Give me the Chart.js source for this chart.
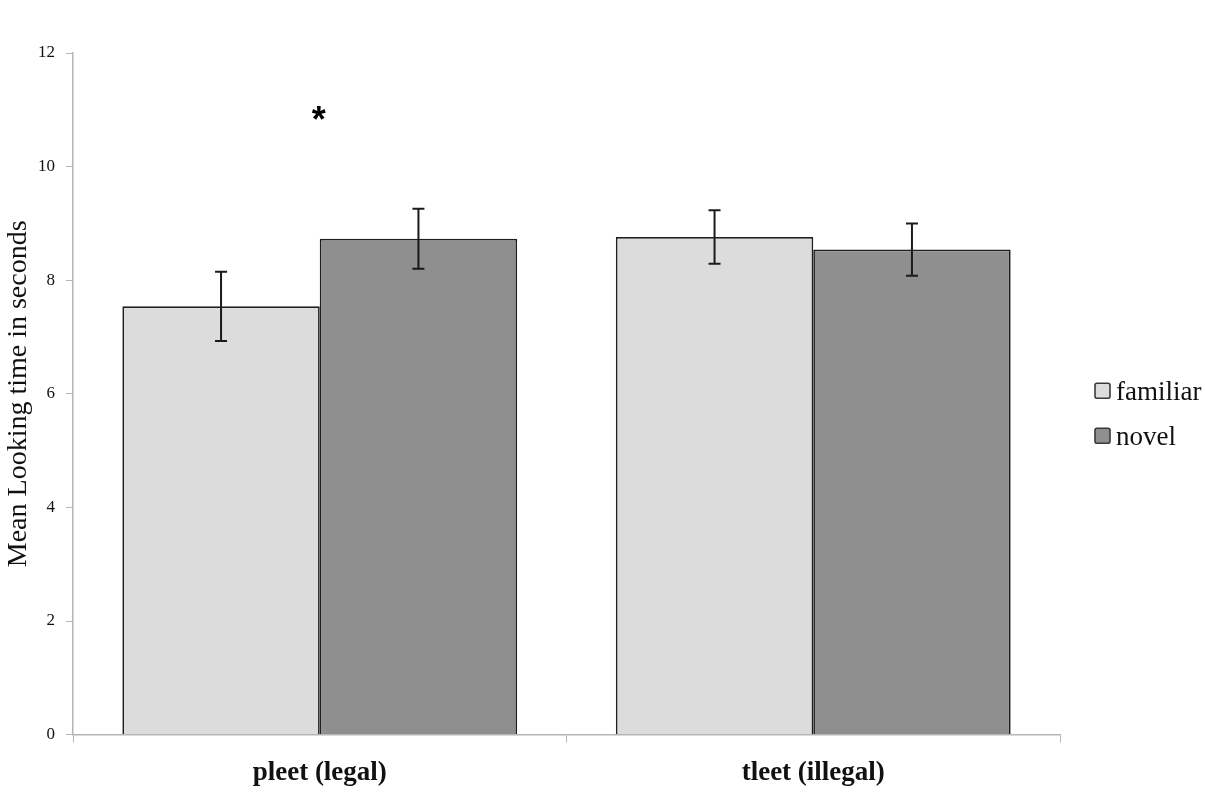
<!DOCTYPE html>
<html>
<head>
<meta charset="utf-8">
<script src="https://cdn.jsdelivr.net/npm/chart.js@4.4.0/dist/chart.umd.min.js"></script>
<style>
  html, body { margin: 0; padding: 0; background: #fff; }
  #wrap { width: 1205px; height: 803px; }
</style>
</head>
<body>
<div id="wrap"><canvas id="c" width="1205" height="803"></canvas></div>
<script>
const categories = ['pleet (legal)', 'tleet (illegal)'];
const familiar = [7.54, 8.76];
const novel = [8.73, 8.54];
const familiarErr = [0.61, 0.47];
const novelErr = [0.53, 0.46];
const yTicks = [0, 2, 4, 6, 8, 10, 12];
const starAt = { category: 0, value: 10.9 };

const serif = '"Liberation Serif", "Times New Roman", serif';

// error bars drawn from the arrays above through the chart's scales
const errorBars = {
  id: 'errorBars',
  afterDatasetsDraw(chart) {
    const c = chart.ctx;
    const errs = [familiarErr, novelErr];
    c.save();
    c.strokeStyle = '#1a1a1a';
    c.lineWidth = 2;
    chart.data.datasets.forEach((ds, i) => {
      const meta = chart.getDatasetMeta(i);
      meta.data.forEach((bar, j) => {
        const v = ds.data[j];
        const top = chart.scales.y.getPixelForValue(v + errs[i][j]);
        const bot = chart.scales.y.getPixelForValue(v - errs[i][j]);
        const x = bar.x;
        c.beginPath();
        c.moveTo(x, top); c.lineTo(x, bot);
        c.moveTo(x - 6, top); c.lineTo(x + 6, top);
        c.moveTo(x - 6, bot); c.lineTo(x + 6, bot);
        c.stroke();
      });
    });
    // significance star
    const sx = chart.scales.x.getPixelForValue(starAt.category);
    const sy = chart.scales.y.getPixelForValue(starAt.value);
    c.fillStyle = '#000';
    c.font = 'bold 36px "Liberation Sans", Arial, sans-serif';
    c.textAlign = 'center';
    c.textBaseline = 'middle';
    c.fillText('*', sx - 1, sy + 7);
    c.restore();
  }
};

// legend on the right, box tight to the text
const sideLegend = {
  id: 'sideLegend',
  afterDraw(chart) {
    const c = chart.ctx;
    const x0 = chart.chartArea.right + 35;
    const yMid = (chart.chartArea.top + chart.chartArea.bottom) / 2;
    const step = 45;
    const n = chart.data.datasets.length;
    c.save();
    chart.data.datasets.forEach((ds, i) => {
      const y = yMid - (n - 1) * step / 2 + i * step + 20;
      c.fillStyle = ds.backgroundColor;
      c.strokeStyle = '#3a3a3a';
      c.lineWidth = 1.6;
      c.beginPath();
      c.roundRect(x0, y - 8, 15, 15, 2);
      c.fill();
      c.stroke();
      c.fillStyle = '#111';
      c.font = '27px ' + serif;
      c.textAlign = 'left';
      c.textBaseline = 'middle';
      c.fillText(ds.label, x0 + 21, y + 2);
    });
    c.restore();
  }
};

new Chart(document.getElementById('c').getContext('2d'), {
  type: 'bar',
  data: {
    labels: categories,
    datasets: [
      {
        label: 'familiar',
        data: familiar,
        backgroundColor: '#dcdcdc',
        borderColor: '#1e1e1e',
        borderWidth: 1.7,
        categoryPercentage: 0.8,
        barPercentage: 1.0
      },
      {
        label: 'novel',
        data: novel,
        backgroundColor: '#8f8f8f',
        borderColor: '#1e1e1e',
        borderWidth: 1.7,
        categoryPercentage: 0.8,
        barPercentage: 1.0
      }
    ]
  },
  options: {
    responsive: false,
    animation: false,
    layout: { padding: { top: 53, right: 145, bottom: 0, left: 2 } },
    plugins: {
      tooltip: { enabled: false },
      legend: { display: false }
    },
    scales: {
      x: {
        grid: { drawOnChartArea: false, tickLength: 8, color: '#b5b5b5' },
        border: { color: '#b5b5b5', width: 1.5 },
        ticks: {
          color: '#111',
          padding: 14,
          font: { family: serif, size: 27, weight: 'bold' }
        }
      },
      y: {
        min: 0,
        max: 12,
        afterBuildTicks(axis) { axis.ticks = yTicks.map(v => ({ value: v })); },
        afterFit(axis) { axis.width = 71; },
        grid: { drawOnChartArea: false, tickLength: 7, color: '#b5b5b5' },
        border: { color: '#b5b5b5', width: 1.5 },
        ticks: {
          color: '#111',
          padding: 11,
          font: { family: serif, size: 17 }
        },
        title: {
          display: true,
          text: 'Mean Looking time in seconds',
          color: '#111',
          padding: { top: 0, bottom: 2 },
          font: { family: serif, size: 28 }
        }
      }
    }
  },
  plugins: [errorBars, sideLegend]
});
</script>
</body>
</html>
